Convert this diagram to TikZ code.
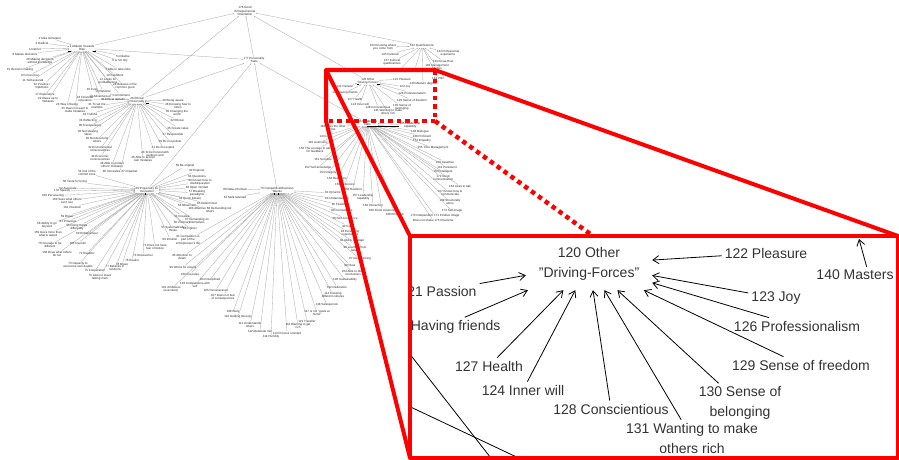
\documentclass[tikz,border=0pt]{standalone}
\usepackage{fontspec}
\setmainfont{Liberation Sans}
\usetikzlibrary{arrows.meta}
\newcommand\leafset[2]{\foreach \n/\x/\y/\t in {#2} {\node[tl] (\n) at (\x,\y) {\t}; \draw[te] (\n) -- (#1);}}
\begin{document}
\begin{tikzpicture}[x=1pt,y=-1pt,
  tl/.style={font=\fontsize{3}{3.4}\selectfont, inner sep=0.4pt, align=center, text=black!85},
  hub/.style={tl},
  te/.style={draw=black!35, line width=0.3pt, -{Stealth[length=1.3pt,width=1.1pt]}},
  mk/.style={draw=black, line width=1pt},
  big/.style={font=\fontsize{14}{20}\selectfont, inner sep=3pt, align=center, text=black!80},
  ba/.style={draw=black, line width=0.8pt, -{Straight Barb[length=6pt,width=8pt]}},
  zl/.style={draw=black, line width=0.8pt},
  callout/.style={draw=red, line width=4pt, line join=round},
  dots/.style={draw=red, line width=4.5pt, dash pattern=on 4.5pt off 4pt}
]
\useasboundingbox (0,0) rectangle (899,460);
\fill[white] (0,0) rectangle (899,460);

% ---------- hubs ----------
\node[hub] (r)  at (245,11)  {176 Good\\Entrepreneurial\\Orientation};
\node[hub] (ha) at (82,48)   {1 Attitude Towards\\Risk};
\node[hub] (hp) at (254,60)  {177 Personality\\Traits};
\node[hub] (he) at (137,100) {26 Ethical\\Personality};
\node[hub] (hi) at (147,190) {69 Propensity for\\Innovation};
\node[hub] (hc) at (277,190) {79 Competitive/Business\\Talents};
\node[hub] (hq) at (422,46)  {132 Qualifications};
\node[hub] (ho) at (368,81)  {120 Other\\"Driving-Forces"};
\node[hub] (hl) at (367,123) {133 Leadership\\Traits};

\draw[te] (ha) -- (r);
\draw[te] (he) -- (r);
\draw[te] (hp) -- (r);
\draw[te] (hq) -- (r);
\draw[te] (ho) -- (r);
\draw[te] (ha) -- (hp);
\draw[te] (he) -- (hp);
\draw[te] (hi) -- (hp);
\draw[te] (hc) -- (hp);
\draw[te] (hl) -- (hp);

% ---------- leaves ----------
\leafset{ha}{a1/50/38/2 Idea stimulator, a2/42/43/4 Radical, a3/35/49/3 Instinct,
 a4/25/54/8 Makes decisions, a5/40/61/{20 Making decisions\\without knowledge},
 a6/20/70/15 Decision making, a7/30/75/9 Forces fear, a8/33/80/11 Self-assured,
 a9/42/86/{12 Positive /\\Optimistic}, a10/45/95/17 Experience,
 a11/48/100/{22 Dares up to\\mistakes}, a12/67/105/24 Way of being,
 a13/75/110/{25 Does not want to\\make mistakes}, a14/92/89/19 Cost,
 a15/103/91/16 Rational, a16/100/96/13 Adventurous, a17/120/95/7 Commitment,
 a18/125/86/{28 Believes in the\\common good}, a19/108/81/{14 Looks for\\profitableness},
 a20/115/75/10 Confident, a21/118/69/7 Able to take risks, a22/120/61/6 Is not shy,
 a23/123/56/5 Initiative}

\leafset{he}{e1/173/101/29 Being aware, e2/178/106/{28 Knowing how to\\listen},
 e3/177/113/{30 Changing the\\world}, e4/177/120/32 Ethical, e5/178/128/35 Create value,
 e6/173/135/37 Responsible, e7/170/142/39 Do not pollute, e8/163/148/41 Do not exploit,
 e9/155/154/{43 To be honest with\\partners and}, e10/143/159/{45 Able to accept\\own mistakes},
 e11/97/106/{31 To set the\\example}, e11b/85/99/{18 Financial\\education},
 e12/113/99/30 Ethical attitude, e13/90/114/33 Truthful, e14/88/121/34 Reflecting,
 e15/90/126/36 Transparency, e16/88/133/{38 Not stealing\\ideas},
 e17/97/140/{40 Not deceiving\\others}, e18/100/149/{42 Environmental\\consciousness},
 e19/100/158/{44 Economic\\consciousness}, e20/112/165/{46 Able to protect\\others' mistakes},
 e21/120/172/48 Innovative 47 Impartial}

\leafset{hi}{i1/185/166/59 Be original, i2/197/171/62 Explorer, i3/197/177/64 Questions,
 i4/200/182/{60 Knows how to\\doubt/question}, i5/197/188/66 Open minded,
 i6/197/193/{57 Breaking\\paradigms}, i7/190/199/63 Quick (ideas), i8/207/203/65 Determined,
 i9/187/205/53 Observant, i10/210/210/{183 Attentive 68 Demanding not\\others},
 i11/182/216/54 Creative, i12/197/221/{67 Demanding on\\themselves}, i13/182/223/56 Visionary,
 i14/173/229/{57 Systematically\\thinks}, i15/190/229/68 Fighter, i16/170/239/69 Intuition,
 i17/155/247/{71 Does not have\\fear of failure}, i18/143/255/74 Researcher,
 i19/132/260/76 Realist, i20/122/264/78 Brave, i21/115/268/{77 Believes in\\solutions},
 i22/95/271/75 Cooperation, i23/100/277/{76 Likes to leave\\lasting mark},
 i24/78/265/{73 Capacity to\\overcome own doubts}, i25/57/254/{158 Does what others\\do not},
 i26/87/253/72 Realistic, i27/50/245/{70 Courage to be\\different}, i28/78/243/165 Inventor,
 i29/48/234/{159 Goes more than\\what is asked}, i30/87/234/60 Entrepreneur,
 i31/77/227/{55 Doing things\\differently}, i32/47/225/{58 Ability to go\\beyond},
 i33/68/221/61 Proactive, i34/67/216/59 Brave, i35/72/207/161 Invested,
 i36/67/201/{160 Sees what others\\can't see}, i37/53/196/168 Persevering,
 i38/62/191/170 Speedy, i39/68/188/52 Associate, i40/75/182/50 Taste for trying,
 i41/87/173/{51 Out of the\\comfort zone}}

\leafset{hc}{c1/235/189/80 Data-informed, c2/235/197/81 Multi-talented,
 c3/188/240/{91 Competition is\\part of the\\entrepreneur's life}, c4/182/257/{95 Attention to\\detail},
 c5/183/267/96 Works for results, c6/190/274/100 Executes, c7/171/289/{101 Ambitious\\(executive)},
 c8/195/285/{103 Competitions with\\self}, c9/216/290/105 Perseverance, c10/210/280/104 Disciplined,
 c11/223/297/{107 Does not fear\\of consequences}, c12/233/312/108 Wary,
 c13/238/317/110 Guiding (Group), c14/250/325/{111 Understands\\others},
 c15/260/331/112 Moderate risk, c16/271/337/114 Humility, c17/287/333/113 Process oriented,
 c18/298/326/{116 Wanting to get\\rich}, c19/307/321/119 Traveller,
 c20/317/313/{117 Is not "goals at\\home"}, c21/327/305/118 Salesperson,
 c22/333/295/{114 Knowing\\different cultures}, c23/337/287/112 Dedication,
 c24/345/280/106 Sustainability, c25/353/273/{104 Able to draw\\conclusions},
 c26/350/265/99 Clear, c27/360/259/97 Goal thinking, c28/333/193/81 Dynamic,
 c29/337/199/83 Understanding, c30/340/205/85 Flexibility, c31/342/211/88 Competence,
 c32/345/218/90 Self-confidence, c33/348/226/92 Good, c34/350/233/{93 Exceeding\\expectations},
 c35/352/241/94 Ability to adapt, c36/355/249/{98 Learning from\\failure}}

\leafset{hl}{l1/333/128/{140 Sees the other\\first}, l2/325/136/143 Life, l3/318/143/145 Autonomy,
 l4/315/150/{150 The courage to ask\\for feedback}, l5/323/159/151 Sociable,
 l6/318/168/152 Self-knowledge, l7/328/173/153 Integrity, l8/337/178/156 Resilience,
 l9/345/184/159 Deference, l10/353/189/162 Resilient, l11/363/197/{157 Leadership\\capability},
 l12/373/205/163 Interaction, l13/382/210/166 Finds solutions, l14/395/215/168 Empathic,
 l15/435/216/170 Independent 171 Positive image, l16/433/220/Does not shake 175 Charisma,
 l17/410/125/{135 Leadership\\capability}, l18/420/132/138 Dialogue, l19/422/136/139 Proficient,
 l20/422/141/152 Empathy, l21/433/148/155 Time Management, l22/445/162/160 Assertive,
 l23/447/167/161 Persistent, l24/443/172/164 Intelligent, l25/443/178/{172 Good\\communication},
 l26/460/186/163 Likes to talk, l27/450/193/{167 Knows how to\\communicate},
 l28/450/202/{169 Structurally\\alone}, l29/452/211/173 Self-image}

\leafset{ho}{o1/345/86/121 Passion, o2/345/93/125 Having friends, o3/355/99/127 Health,
 o4/360/104/124 Inner will, o5/378/107/128 Conscientious, o6/388/112/{131 Wanting to make\\others rich},
 o7/402/107/{130 Sense of\\belonging}, o8/412/100/129 Sense of freedom,
 o9/412/93/126 Professionalism, o10/405/87/123 Joy, o11/402/79/122 Pleasure}

\leafset{hq}{q1/383/47/{133 Knowing where\\you come from}, q2/390/54/135 Cultured,
 q3/392/62/{137 Cultural\\qualifications}, q4/398/72/139 Literacy, q5/415/69/138 Economic studies,
 q6/437/67/{136 Management\\studies}, q7/443/61/134 Know-How, q8/448/53/{134 Professional\\experience},
 q9/438/78/142 PhD, q10/423/84/140 Masters degree}

% selection marks
\draw[mk] ([xshift=-1pt]ha.south west) -- ++(3,0);
\draw[mk] ([xshift=-2pt]ha.south east) -- ++(3,0);
\draw[mk] ([xshift=1pt]he.south east) -- ++(3,0);
\draw[mk] ([xshift=-2pt]hi.south) -- ++(0,1.5);
\draw[mk] ([xshift=-3pt]hc.south) -- ++(0,1.5);
\draw[mk] ([xshift=1pt]hc.south) -- ++(0,1.5);
\draw[mk] (ho.south west) -- ++(2.5,0);
\draw[mk] ([xshift=-2pt]ho.south east) -- ++(2.5,0);
\draw[mk] (hl.south) -- (l17.west |- hl.south);

% ---------- magnified inset ----------
\fill[white] (410,236) rectangle (898,458);
\begin{scope}
\clip (410,236) rectangle (898,458);
\node[big, minimum width=126pt, minimum height=52pt, inner sep=0pt] (D) at (589,264) {120 Other\\"Driving-Forces"};
\node[big] (P1) at (438,291) {121 Passion};
\node[big] (P2) at (442,327) {125 Having friends};
\node[big] (P3) at (489,366) {127 Health};
\node[big] (P4) at (523,390) {124 Inner will};
\node[big] (P5) at (611,409) {128 Conscientious};
\node[big] (P6) at (692,438) {131 Wanting to make\\others rich};
\node[big] (P7) at (740,403) {130 Sense of\\belonging};
\node[big] (P8) at (801,365) {129 Sense of freedom};
\node[big] (P9) at (797,326) {126 Professionalism};
\node[big] (P10) at (776,298) {123 Joy};
\node[big] (P11) at (766,253) {122 Pleasure};
\node[big] (P12) at (855,275) {140 Masters};
\coordinate (mt) at (859,239);
\foreach \k in {1,...,11} {\draw[ba] (P\k) -- (D);}
\draw[ba] (P12.35) -- (mt);
\coordinate (z1) at (395,335); \coordinate (z2) at (494,462);
\coordinate (z3) at (400,402); \coordinate (z4) at (525,461);
\draw[zl] (z1) -- (z2);
\draw[zl] (z3) -- (z4);
\end{scope}

% ---------- callout ----------
\coordinate (s1) at (326,70);  \coordinate (s2) at (435,70);
\coordinate (s3) at (435,121); \coordinate (s4) at (326,121);
\coordinate (b1) at (410,236); \coordinate (b2) at (898,236);
\coordinate (b3) at (898,458); \coordinate (b4) at (410,458);
\coordinate (bm) at (593,236);
\draw[dots] (s2) -- (s3) -- (s4);
\draw[dots] (s3) -- (bm);
\draw[callout] (b1) rectangle (b3);
\draw[callout] (b2) -- (s2) -- (s1) -- (s4) -- (b4);
\draw[callout] (s1) -- (b1);
\end{tikzpicture}
\end{document}
